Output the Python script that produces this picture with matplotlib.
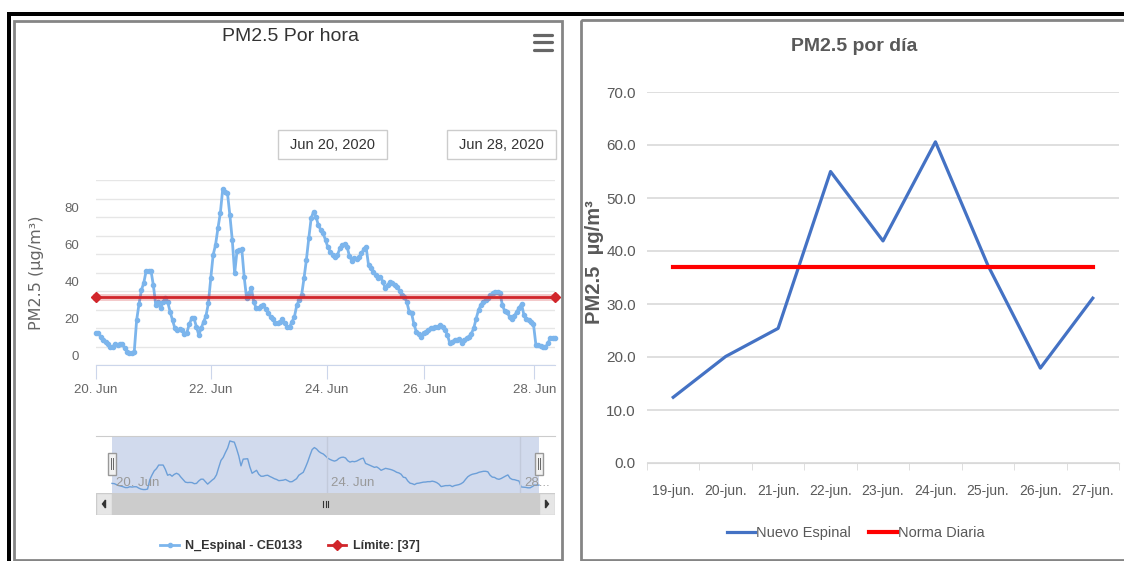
import numpy as np
import matplotlib as mpl
import matplotlib.pyplot as plt
from matplotlib import font_manager
from matplotlib import transforms as mtransforms
from matplotlib.patches import Rectangle, Polygon

W, H = 1124, 561

# PM2.5 por hora, N_Espinal - CE0133 (un valor por punto del eje ordinal)
pm_hora = [
    17.5, 17.1, 15.3, 13.5, 12.6, 11.4, 9.9, 9.9, 11.4, 10.8, 11.4, 11.4, 9.0, 7.2, 6.3, 6.3, 7.2,
    24.3, 33.0, 40.5, 44.5, 51.0, 51.0, 51.0, 43.0, 32.4, 34.0, 30.6, 34.0, 36.0, 34.0, 28.8, 24.3,
    19.8, 19.0, 19.3, 19.0, 17.0, 17.5, 22.0, 25.2, 25.2, 20.7, 16.2, 19.8, 23.4, 26.5, 33.3, 46.8,
    59.5, 64.9, 73.9, 82.0, 95.0, 93.7, 92.8, 81.0, 67.6, 49.5, 61.8, 62.2, 62.5, 47.4, 36.0, 38.7, 41.4,
    34.2, 30.6, 30.6, 31.9, 32.4, 30.1, 28.3, 26.1, 24.7, 22.5, 22.9, 23.4, 24.7, 22.5, 20.4, 20.7,
    23.4, 26.1, 32.4, 35.1, 37.8, 46.8, 56.8, 68.5, 79.3, 82.9, 80.2, 75.7, 73.0, 71.2, 67.6, 63.6,
    61.3, 59.5, 58.2, 59.5, 63.0, 64.9, 65.4, 64.0, 58.9, 56.4, 57.7, 57.1, 58.2, 60.4, 62.5, 63.6,
    54.0, 52.3, 50.5, 48.6, 46.8, 47.7, 45.0, 41.4, 43.2, 45.0, 44.1, 43.2, 42.0, 40.2, 37.8, 36.6, 34.2, 28.8,
    28.0, 22.0, 18.0, 17.0, 15.3, 17.5, 18.0, 19.0, 19.8, 20.0, 20.7, 20.7, 21.6, 20.7, 19.0, 16.2,
    11.7, 12.6, 13.5, 13.5, 13.9, 11.7, 13.5, 14.4, 15.3, 17.0, 19.8, 25.0, 29.7, 32.4, 34.2, 35.1,
    36.0, 37.8, 38.7, 39.6, 39.6, 38.7, 32.4, 29.0, 28.5, 26.0, 25.0, 26.5, 28.8, 31.0, 33.0, 27.0,
    24.7, 24.3, 23.0, 22.0, 11.0, 10.6, 10.3, 9.5, 9.5, 11.7, 14.4, 14.4, 14.4,
]
limite = 37
dias_hora = ['20. Jun', '22. Jun', '24. Jun', '26. Jun', '28. Jun']
idx_dias = [0, 48, 96.5, 137.3, 183.4]   # punto del eje ordinal donde empieza cada dia
nav_labels = ['20. Jun', '24. Jun', '28...']
fecha_desde, fecha_hasta = 'Jun 20, 2020', 'Jun 28, 2020'

# PM2.5 por dia
dias = ['19-jun.', '20-jun.', '21-jun.', '22-jun.', '23-jun.', '24-jun.', '25-jun.', '26-jun.', '27-jun.']
pm_dia = [12.4, 20.1, 25.4, 55.0, 41.9, 60.6, 37.3, 17.9, 31.1]
norma_diaria = 37

names = {f.name for f in font_manager.fontManager.ttflist}
NARROW = 'Liberation Sans Narrow' if 'Liberation Sans Narrow' in names else 'Liberation Sans'
plt.rcParams['font.family'] = [NARROW, 'DejaVu Sans']

fig = plt.figure(figsize=(W / 100, H / 100), dpi=100)


def caja(x0, y0, x1, y1):
    return [x0 / W, 1 - y1 / H, (x1 - x0) / W, (y1 - y0) / H]


bg = fig.add_axes([0, 0, 1, 1], zorder=0)
bg.set_xlim(0, W)
bg.set_ylim(H, 0)
bg.axis('off')

# marcos
bg.add_patch(Rectangle((7, 12), W, 3.5, color='black', lw=0))
bg.add_patch(Rectangle((7, 12), 3.5, H, color='black', lw=0))
bg.add_patch(Rectangle((14, 20.5), 548, 539.5, fill=False, ec='#858585', lw=2))
bg.add_patch(Rectangle((580.5, 20), 600, 540, fill=False, ec='#858585', lw=2))

# ================= grafico por hora =================
bg.text(290, 36, 'PM2.5 Por hora', ha='center', va='center', fontsize=14, color='#333333')
for yy in (34.5, 42, 49.5):
    bg.plot([534, 552], [yy, yy], color='#666666', lw=2.3, solid_capstyle='round')
for x0, txt in ((278, fecha_desde), (447, fecha_hasta)):
    bg.add_patch(Rectangle((x0, 130), 109, 29, fc='white', ec='#cccccc', lw=1))
    bg.text(x0 + 54.5, 145, txt, ha='center', va='center', fontsize=10.5, color='#333333')
bg.text(36, 273, 'PM2.5 (µg/m³)', rotation=90, ha='center', va='center',
        fontsize=11.5, color='#666666', family='DejaVu Sans')

n = len(pm_hora)
xs = np.arange(n)
ax1 = fig.add_axes(caja(96, 180, 555, 365))
ax1.set_xlim(0, n - 1)
ax1.set_ylim(0, 100)
l_serie, = ax1.plot(xs, pm_hora, color='#7cb5ec', lw=2, marker='o', ms=3, zorder=3, clip_on=False)
ax1.plot([0, n - 1], [limite, limite], color='#d1262b', lw=5, alpha=0.25, zorder=3, clip_on=False)
l_lim, = ax1.plot([0, n - 1], [limite, limite], color='#d1262b', lw=2, marker='D', ms=5,
                  zorder=4, clip_on=False)
ax1.set_yticks(np.arange(0, 101, 10))
ax1.grid(axis='y', color='#e6e6e6', lw=1)
ax1.tick_params(axis='y', length=0, labelleft=False)
ax1.set_xticks(idx_dias, dias_hora)
ax1.tick_params(axis='x', length=10, color='#ccd6eb', labelcolor='#666666', labelsize=9.5, pad=4)
for s in ['top', 'left', 'right']:
    ax1.spines[s].set_visible(False)
ax1.spines['bottom'].set_color('#ccd6eb')
tr = mtransforms.offset_copy(ax1.get_yaxis_transform(), fig=fig, x=-17, y=8, units='dots')
for v in range(0, 81, 20):
    ax1.text(0, v, str(v), transform=tr, ha='right', va='center', fontsize=9.5, color='#666666')

# navegador
ax2 = fig.add_axes(caja(96, 436, 555, 493))
pad = 16 / 427 * (n - 1)
ax2.set_xlim(-pad, n - 1 + pad)
ax2.set_ylim(0, 104)
ax2.axvspan(0, n - 1, color='#d1daed', lw=0)
ax2.plot(xs, pm_hora, color='#6c9fd8', lw=1)
ax2.set_xticks([])
ax2.set_yticks([])
for s in ['bottom', 'left', 'right']:
    ax2.spines[s].set_visible(False)
ax2.spines['top'].set_color('#cccccc')
bl = mtransforms.blended_transform_factory(ax2.transData, ax2.transAxes)
for x, lab in zip(idx_dias[::2], nav_labels):
    if x > 0:
        ax2.axvline(x, color='#c2cadb', lw=1)
    ax2.text(x + 2, 0.17, lab, transform=bl, ha='left', va='center', fontsize=9.5, color='#999999')
hw = 3.6
for x in (0, n - 1):
    ax2.add_patch(Rectangle((x - hw / 2, 0.32), hw, 0.39, transform=bl, fc='#f2f2f2', ec='#999999',
                            lw=1, clip_on=False, zorder=5))
    for dx in (-0.45, 0.45):
        ax2.plot([x + dx, x + dx], [0.42, 0.61], transform=bl, color='#666666', lw=0.7,
                 clip_on=False, zorder=6)

# barra de desplazamiento
ax3 = fig.add_axes(caja(96, 493, 555, 515))
ax3.set_xlim(0, 459)
ax3.set_ylim(0, 1)
ax3.axis('off')
ax3.add_patch(Rectangle((16, 0), 427, 1, fc='#cccccc', lw=0))
ax3.add_patch(Rectangle((0, 0.02), 16, 0.96, fc='#e6e6e6', ec='#cccccc', lw=1))
ax3.add_patch(Rectangle((443, 0.02), 16, 0.96, fc='#e6e6e6', ec='#cccccc', lw=1))
ax3.add_patch(Polygon([(6.5, 0.5), (9.5, 0.68), (9.5, 0.32)], color='#333333'))
ax3.add_patch(Polygon([(452.5, 0.5), (449.5, 0.68), (449.5, 0.32)], color='#333333'))
for gx in (227, 229.5, 232):
    ax3.plot([gx, gx], [0.36, 0.64], color='#333333', lw=0.8)

fig.legend([l_serie, l_lim], ['N_Espinal - CE0133', 'Límite: [37]'], loc='center',
           bbox_to_anchor=(290 / W, 1 - 546 / H), ncol=2, frameon=False, handlelength=1.5,
           handletextpad=0.5, columnspacing=2.0,
           prop={'weight': 'bold', 'size': 9}, labelcolor='#333333')

# ================= grafico por dia =================
bg.text(854, 46, 'PM2.5 por día', ha='center', va='center', fontsize=14, fontweight='bold',
        color='#595959')
bg.text(594, 262, 'PM2.5  µg/m³', rotation=90, ha='center', va='center', fontsize=14.5,
        fontweight='bold', color='#595959', family=['Liberation Sans', 'DejaVu Sans'])

ax4 = fig.add_axes(caja(647, 92, 1119, 463))
cat = np.arange(len(dias))
l_dia, = ax4.plot(cat, pm_dia, color='#4472c4', lw=2.3, zorder=3)
l_norma, = ax4.plot(cat, [norma_diaria] * len(dias), color='#ff0000', lw=3, zorder=4)
ax4.set_xlim(-0.5, len(dias) - 0.5)
ax4.set_ylim(0, 70)
ax4.set_yticks(np.arange(0, 71, 10), [f'{v:.1f}' for v in range(0, 71, 10)])
ax4.grid(axis='y', color='#d9d9d9', lw=1.2)
ax4.set_xticks(cat, dias)
ax4.set_xticks(np.arange(-0.5, len(dias)), minor=True)
ax4.tick_params(axis='x', which='major', length=0, pad=15, labelsize=10, labelcolor='#595959')
ax4.tick_params(axis='x', which='minor', length=5, color='#d9d9d9')
ax4.tick_params(axis='y', length=0, pad=8, labelsize=11, labelcolor='#595959')
for s in ['top', 'left', 'right']:
    ax4.spines[s].set_visible(False)
ax4.spines['bottom'].set_color('#d9d9d9')

fig.legend([l_dia, l_norma], ['Nuevo Espinal', 'Norma Diaria'], loc='center',
           bbox_to_anchor=(856 / W, 1 - 533 / H), ncol=2, frameon=False, handlelength=1.9,
           handletextpad=0.1, columnspacing=1.2, fontsize=10.5, labelcolor='#595959')

fig.savefig('out.png', dpi=100)
